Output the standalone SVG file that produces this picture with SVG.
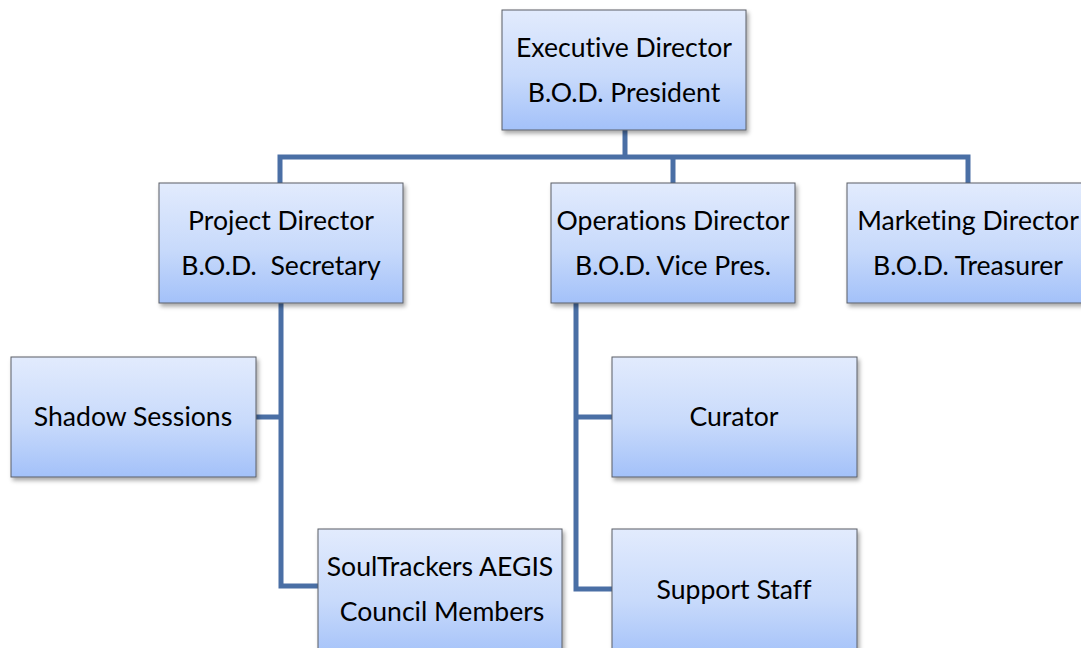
<svg xmlns="http://www.w3.org/2000/svg" width="1081" height="648" viewBox="0 0 1081 648">
  <defs>
    <linearGradient id="boxFill" x1="0" y1="0" x2="0" y2="1">
      <stop offset="0" stop-color="#e2ebfd"/>
      <stop offset="0.55" stop-color="#c8dafb"/>
      <stop offset="1" stop-color="#a3c1f9"/>
    </linearGradient>
    <filter id="shadow" x="-5%" y="-5%" width="115%" height="120%">
      <feDropShadow dx="2" dy="3" stdDeviation="2" flood-color="#000" flood-opacity="0.35"/>
    </filter>
  </defs>
  <style>
    .box { fill: url(#boxFill); stroke: #5a5f66; stroke-width: 1; filter: url(#shadow); }
    .lbl { font-family: Lato, "Open Sans", "Liberation Sans", sans-serif; font-size: 26.6px; fill: #000; text-anchor: middle; font-variant-ligatures: none; }
    .link { fill: none; stroke: #4a6fa5; stroke-width: 5; stroke-linejoin: miter; stroke-linecap: butt; }
  </style>
  <rect width="1081" height="648" fill="#fff"/>

  <g id="connectors">
    <path class="link" d="M625 130 V157"/>
    <path class="link" d="M280 183 V157 H968 V183"/>
    <path class="link" d="M673 157 V183"/>
    <path class="link" d="M281 303 V586 H318"/>
    <path class="link" d="M256 417 H281"/>
    <path class="link" d="M576 303 V589 H612"/>
    <path class="link" d="M576 417 H612"/>
  </g>

  <g id="exec">
    <rect class="box" x="502" y="10" width="244" height="120"/>
    <text class="lbl" x="624" y="57">Executive Director</text>
    <text class="lbl" x="624" y="102">B.O.D. President</text>
  </g>
  <g id="project">
    <rect class="box" x="159" y="183" width="244" height="120"/>
    <text class="lbl" x="281" y="230">Project Director</text>
    <text class="lbl" x="281" y="275" xml:space="preserve">B.O.D.  Secretary</text>
  </g>
  <g id="operations">
    <rect class="box" x="551" y="183" width="244" height="120"/>
    <text class="lbl" x="673" y="230">Operations Director</text>
    <text class="lbl" x="673" y="275">B.O.D. Vice Pres.</text>
  </g>
  <g id="marketing">
    <rect class="box" x="847" y="183" width="244" height="120"/>
    <text class="lbl" x="968" y="230">Marketing Director</text>
    <text class="lbl" x="968" y="275">B.O.D. Treasurer</text>
  </g>
  <g id="shadow-sessions">
    <rect class="box" x="11" y="357" width="245" height="120"/>
    <text class="lbl" x="133" y="426">Shadow Sessions</text>
  </g>
  <g id="curator">
    <rect class="box" x="612" y="357" width="245" height="120"/>
    <text class="lbl" x="734" y="426">Curator</text>
  </g>
  <g id="council">
    <rect class="box" x="318" y="529" width="244" height="130"/>
    <text class="lbl" x="440" y="576">SoulTrackers AEGIS</text>
    <text class="lbl" x="442" y="621">Council Members</text>
  </g>
  <g id="support">
    <rect class="box" x="612" y="529" width="245" height="130"/>
    <text class="lbl" x="734" y="599">Support Staff</text>
  </g>
</svg>
